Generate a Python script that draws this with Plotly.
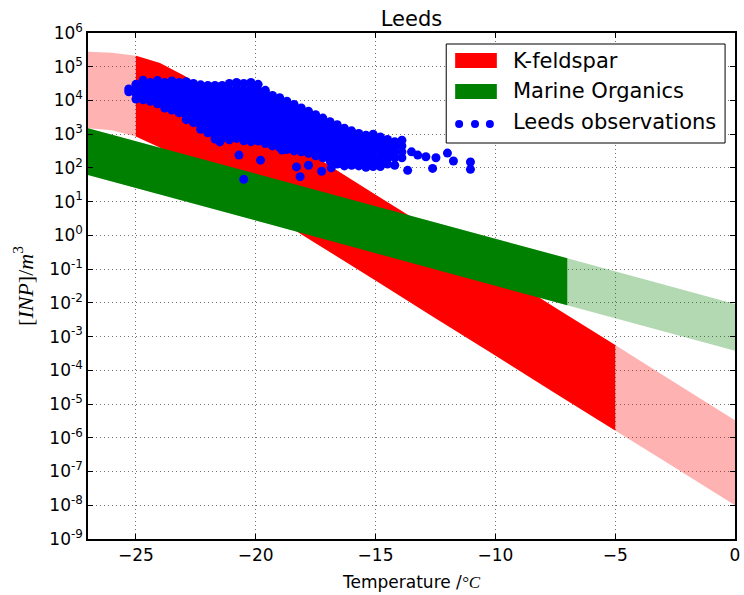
import plotly.graph_objects as go

# ---------------- data ----------------
# K-feldspar band (INP per m^3) on a temperature grid (deg C)
temp_kf = [-27, -26, -25, -24, -23, -22, -21, -20, -17.5, -15, -12.5, -10, -7.5, -5, -2.5, 0]
kf_upper = [2.8e5, 2.6e5, 2.1e5, 1.3e5, 5.5e4, 2.0e4, 7.6e3, 2.75e3, 210, 16, 1.26, 0.095,
            7.2e-3, 5.6e-4, 4.3e-5, 3.3e-6]
kf_lower = [1.5e3, 1.3e3, 850, 400, 155, 58, 21, 7.6, 0.59, 0.046, 3.5e-3, 2.75e-4,
            2.1e-5, 1.66e-6, 1.3e-7, 1.0e-8]
kf_valid = (-25, -5)

# Marine organics band
temp_mo = [-27, -7, 0]
mo_upper = [1.5e3, 0.21, 9.3e-3]
mo_lower = [62, 8.5e-3, 3.8e-4]
mo_valid = (-27, -7)

# Leeds observations: temperature columns and INP values in each column
obs_col_temp = [-25.3, -25.0, -24.7, -24.4, -24.1, -23.8, -23.5, -23.2, -22.9, -22.6,
                -22.3, -22.0, -21.7, -21.4, -21.1, -20.8, -20.5, -20.2, -19.9, -19.6,
                -19.3, -19.0, -18.7, -18.4, -18.1, -17.8, -17.5, -17.2, -16.9, -16.6,
                -16.3, -16.0, -15.7, -15.4, -15.1, -14.8, -14.5, -14.2, -13.9]
obs_col_inp = [
    [2.2e4, 1.8e4],
    [3.0e4, 2.2e4, 1.6e4, 1.1e4],
    [4.0e4, 2.8e4, 2.0e4, 1.4e4, 1.05e4],
    [3.4e4, 2.4e4, 1.7e4, 1.2e4, 9.5e3],
    [3.9e4, 2.8e4, 2.0e4, 1.4e4, 1.0e4, 8.0e3],
    [3.4e4, 2.4e4, 1.7e4, 1.2e4, 8.4e3, 6.0e3],
    [3.8e4, 2.8e4, 2.0e4, 1.4e4, 1.0e4, 7.1e3, 5.2e3],
    [3.4e4, 2.4e4, 1.7e4, 1.2e4, 8.4e3, 6.0e3, 4.3e3],
    [3.6e4, 2.8e4, 2.0e4, 1.4e4, 1.0e4, 7.1e3, 5.0e3, 3.5e3, 2.7e3],
    [3.2e4, 2.4e4, 1.7e4, 1.2e4, 8.4e3, 6.0e3, 4.2e3, 3.0e3, 2.2e3],
    [2.9e4, 2.0e4, 1.4e4, 1.0e4, 7.1e3, 5.0e3, 3.5e3, 2.5e3, 1.8e3, 1.4e3],
    [2.8e4, 2.4e4, 1.7e4, 1.2e4, 8.4e3, 6.0e3, 4.2e3, 3.0e3, 2.1e3, 1.5e3, 1.1e3],
    [2.8e4, 2.0e4, 1.4e4, 1.0e4, 7.1e3, 5.0e3, 3.5e3, 2.5e3, 1.8e3, 1.3e3, 900, 720],
    [2.8e4, 2.4e4, 1.7e4, 1.2e4, 8.4e3, 6.0e3, 4.2e3, 3.0e3, 2.1e3, 1.5e3, 1.06e3, 750],
    [3.2e4, 2.0e4, 1.4e4, 1.0e4, 7.1e3, 5.0e3, 3.5e3, 2.5e3, 1.8e3, 1.3e3, 900, 680],
    [3.4e4, 2.4e4, 1.7e4, 1.2e4, 8.4e3, 6.0e3, 4.2e3, 3.0e3, 2.1e3, 1.5e3, 1.06e3, 750],
    [3.2e4, 2.0e4, 1.4e4, 1.0e4, 7.1e3, 5.0e3, 3.5e3, 2.5e3, 1.8e3, 1.3e3, 900, 640],
    [3.4e4, 2.4e4, 1.7e4, 1.2e4, 8.4e3, 6.0e3, 4.2e3, 3.0e3, 2.1e3, 1.5e3, 1.06e3, 750, 600],
    [3.0e4, 2.0e4, 1.4e4, 1.0e4, 7.1e3, 5.0e3, 3.5e3, 2.5e3, 1.8e3, 1.3e3, 900, 630],
    [2.0e4, 1.7e4, 1.2e4, 8.4e3, 6.0e3, 4.2e3, 3.0e3, 2.1e3, 1.5e3, 1.06e3, 750, 530],
    [1.4e4, 1.0e4, 7.1e3, 5.0e3, 3.5e3, 2.5e3, 1.8e3, 1.3e3, 900, 630, 450],
    [1.2e4, 8.4e3, 6.0e3, 4.2e3, 3.0e3, 2.1e3, 1.5e3, 1.06e3, 750, 530, 400],
    [9.5e3, 7.1e3, 5.0e3, 3.5e3, 2.5e3, 1.8e3, 1.3e3, 900, 630, 450, 350],
    [7.6e3, 6.0e3, 4.2e3, 3.0e3, 2.1e3, 1.5e3, 1.06e3, 750, 530, 380, 320],
    [6.0e3, 5.0e3, 3.5e3, 2.5e3, 1.8e3, 1.3e3, 900, 630, 450, 300],
    [4.8e3, 4.2e3, 3.0e3, 2.1e3, 1.5e3, 1.06e3, 750, 530, 380, 270],
    [3.8e3, 3.5e3, 2.5e3, 1.8e3, 1.3e3, 900, 630, 450, 320, 230],
    [3.0e3, 2.1e3, 1.5e3, 1.06e3, 750, 530, 380, 270, 200],
    [2.35e3, 1.8e3, 1.3e3, 900, 630, 450, 320, 220, 160],
    [1.9e3, 1.5e3, 1.06e3, 750, 530, 380, 270, 190, 130],
    [1.5e3, 1.3e3, 900, 630, 450, 320, 220, 160, 115],
    [1.26e3, 1.06e3, 750, 530, 380, 270, 190, 120],
    [1.05e3, 900, 630, 450, 320, 220, 160, 115],
    [930, 750, 530, 380, 270, 190, 130, 105],
    [1.0e3, 900, 630, 450, 320, 220, 160, 110],
    [830, 630, 450, 320, 220, 150, 110],
    [700, 530, 380, 270, 190, 130],
    [600, 420, 300, 200, 120],
    [660, 450, 300, 200],
]
# isolated observations
obs_extra_temp = [-21.5, -20.7, -19.8, -20.5, -18.9, -18.3, -17.8, -18.15, -17.25, -16.85,
                  -13.66, -13.24, -12.9, -12.48, -12.0, -11.75, -12.62, -11.04, -11.04, -13.5]
obs_extra_inp = [590, 240, 170, 46, 340, 107, 120, 55, 80, 100,
                 85, 240, 215, 200, 275, 160, 97, 150, 91, 300]

series_names = ["K-feldspar", "Marine Organics", "Leeds observations"]

# ---------------- figure ----------------
PINK = "rgba(255,0,0,0.3)"
RED = "rgb(255,0,0)"
LGREEN = "rgba(0,128,0,0.3)"
GREEN = "rgb(0,128,0)"
BLUE = "rgb(0,0,255)"


def band(temps, up, lo, sel=None):
    idx = [i for i, t in enumerate(temps) if sel is None or sel[0] <= t <= sel[1]]
    xs = [temps[i] for i in idx]
    xs = xs + xs[::-1]
    ys = [up[i] for i in idx] + [lo[i] for i in idx][::-1]
    return xs, ys


fig = go.Figure()

x, y = band(temp_kf, kf_upper, kf_lower)
fig.add_trace(go.Scatter(x=x, y=y, fill="toself", fillcolor=PINK, mode="none",
                         showlegend=False, hoverinfo="skip"))
x, y = band(temp_kf, kf_upper, kf_lower, kf_valid)
fig.add_trace(go.Scatter(x=x, y=y, fill="toself", fillcolor=RED, mode="none",
                         name=series_names[0], showlegend=False))
x, y = band(temp_mo, mo_upper, mo_lower)
fig.add_trace(go.Scatter(x=x, y=y, fill="toself", fillcolor=LGREEN, mode="none",
                         showlegend=False, hoverinfo="skip"))
x, y = band(temp_mo, mo_upper, mo_lower, mo_valid)
fig.add_trace(go.Scatter(x=x, y=y, fill="toself", fillcolor=GREEN, mode="none",
                         name=series_names[1], showlegend=False))

obs_t, obs_v = [], []
for t, col in zip(obs_col_temp, obs_col_inp):
    for v in col:
        obs_t.append(t)
        obs_v.append(v)
obs_t += obs_extra_temp
obs_v += obs_extra_inp
fig.add_trace(go.Scatter(x=obs_t, y=obs_v, mode="markers",
                         marker=dict(color=BLUE, size=9, line=dict(width=0)),
                         name=series_names[2], showlegend=False))

ytick_vals = [10.0 ** k for k in range(-9, 7)]
ytick_text = ["10<sup>%d</sup>" % k for k in range(-9, 7)]

axis_common = dict(showline=True, linecolor="black", linewidth=1.5, mirror="ticks",
                   ticks="inside", ticklen=5, tickwidth=1, tickcolor="black",
                   showgrid=True, gridcolor="rgba(0,0,0,0.55)", griddash="1px,3px",
                   gridwidth=1, zeroline=False,
                   tickfont=dict(family="DejaVu Sans", size=17, color="black"))

# ---- legend drawn as a boxed key (matplotlib style) ----
# plot area in pixels: x 88..740, y 33..539
PX0, PX1, PY0, PY1 = 88, 740, 33, 539


def px(xp):
    return (xp - PX0) / (PX1 - PX0)


def py(yp):
    return (PY1 - yp) / (PY1 - PY0)


shapes = [
    dict(type="rect", xref="paper", yref="paper", x0=px(449), x1=px(730), y0=py(143), y1=py(44),
         line=dict(color="black", width=1), fillcolor="white", layer="above"),
    dict(type="rect", xref="paper", yref="paper", x0=px(458), x1=px(500), y0=py(68), y1=py(53),
         line=dict(width=0), fillcolor=RED, layer="above"),
    dict(type="rect", xref="paper", yref="paper", x0=px(458), x1=px(500), y0=py(99), y1=py(84),
         line=dict(width=0), fillcolor=GREEN, layer="above"),
]
for dx in (462, 478, 493):
    shapes.append(dict(type="circle", xref="paper", yref="paper", xsizemode="pixel",
                       ysizemode="pixel", xanchor=px(dx), yanchor=py(124),
                       x0=-4, x1=4, y0=-4, y1=4, line=dict(width=0), fillcolor=BLUE,
                       layer="above"))
annotations = []
for name, yc in zip(series_names, (61, 91, 122)):
    annotations.append(dict(text=name, xref="paper", yref="paper", x=px(514), y=py(yc),
                            xanchor="left", yanchor="middle", showarrow=False,
                            font=dict(family="DejaVu Sans", size=21, color="black")))

fig.update_layout(
    width=744, height=595,
    margin=dict(l=88, r=4, t=33, b=56),
    paper_bgcolor="white", plot_bgcolor="white",
    font=dict(family="DejaVu Sans", color="black"),
    title=dict(text="Leeds", x=0.5, xref="paper", xanchor="center",
               y=1 - 18.5 / 595, yref="container", yanchor="middle",
               font=dict(family="DejaVu Sans", size=21, color="black")),
    xaxis=dict(range=[-27, 0], tickvals=[-25, -20, -15, -10, -5, 0],
               title=dict(text="Temperature /<span style=\"font-family:'Liberation Serif'\"><i>°C</i></span>",
                          font=dict(family="DejaVu Sans", size=17, color="black"),
                          standoff=12),
               **axis_common),
    yaxis=dict(type="log", range=[-9, 6], tickvals=ytick_vals, ticktext=ytick_text,
               title=dict(text="[<i>INP</i>]/<i>m</i><sup>3</sup>",
                          font=dict(family="Liberation Serif", size=22, color="black"),
                          standoff=10),
               **axis_common),
    shapes=shapes,
    annotations=annotations,
    showlegend=False,
)

fig.write_html("out.html")
